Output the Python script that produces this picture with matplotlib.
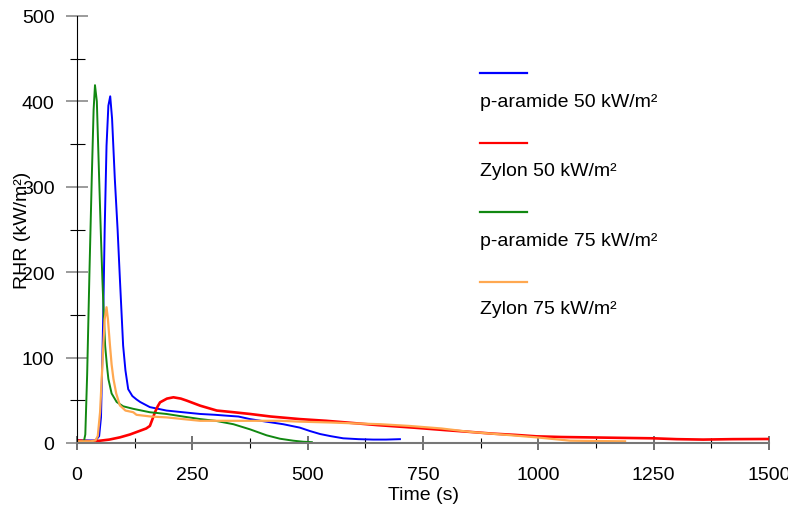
import matplotlib
matplotlib.use("Agg")
import matplotlib.pyplot as plt
from matplotlib.lines import Line2D
from matplotlib.ticker import MultipleLocator

plt.rcParams['font.family'] = ['Liberation Sans', 'DejaVu Sans']

# p-aramide 50 kW/m2 (blue)
t_blue = [0, 20, 40, 48, 52, 55, 57, 60, 64, 68, 72, 76, 82, 88, 93, 100, 105, 111,
          120, 129, 137, 158, 194, 230, 267, 300, 324, 350, 375, 410, 447, 483, 505,
          527, 550, 577, 610, 642, 670, 700]
q_blue = [3, 3, 3, 8, 30, 100, 153, 250, 348, 395, 406, 380, 309, 250, 192, 114, 85, 63,
          55, 51, 48, 42, 38, 36, 34, 33, 32, 31, 28, 25, 22, 18, 14,
          10.5, 8, 5.5, 4.5, 4, 4, 4.5]

# Zylon 50 kW/m2 (red)
t_red = [0, 30, 50, 70, 93, 115, 137, 150, 158, 165, 169, 175, 180, 195, 209, 225, 238,
         267, 303, 340, 375, 420, 483, 540, 585, 650, 729, 800, 852, 900, 950, 996,
         1050, 1105, 1180, 1249, 1300, 1357, 1420, 1500]
q_red = [3, 2, 2.7, 4, 6.6, 10, 14.4, 17, 20, 30, 36, 43, 47.6, 52, 53.5, 52, 49.6,
         43.7, 38, 36, 34, 31, 28, 26, 24, 21, 18, 15, 13, 11, 9.5, 7.8,
         7, 6.6, 6, 5.5, 4.5, 4, 4.5, 4.7]

# p-aramide 75 kW/m2 (green)
t_green = [8, 15, 18, 22, 27, 32, 36, 39, 43, 48, 52, 55, 58, 61, 65, 68, 75, 86, 100,
           122, 158, 194, 230, 267, 300, 339, 375, 411, 440, 469, 490, 509]
q_green = [1, 2, 10, 80, 200, 310, 390, 419, 400, 310, 240, 192, 150, 114, 90, 75, 58, 48, 43,
           40, 36, 34, 31, 28, 26, 22, 16, 9, 5, 2.7, 1.5, 1]

# Zylon 75 kW/m2 (orange)
t_orange = [0, 30, 40, 45, 50, 54, 57, 60, 64, 67, 71.5, 75, 79, 85, 93, 105, 122, 129,
            160, 194, 230, 267, 320, 375, 440, 483, 550, 600, 657, 720, 790, 852, 920,
            996, 1069, 1130, 1188]
q_orange = [2, 2, 3, 8, 36, 80, 114, 145, 159, 145, 114, 92, 75, 58, 44, 38, 36, 33,
            31, 30, 28, 26, 26, 26, 26, 25, 24, 23, 22, 20, 17, 13, 10,
            6.6, 2.7, 2.3, 2]

labels = ['p-aramide 50 kW/m²', 'Zylon 50 kW/m²', 'p-aramide 75 kW/m²', 'Zylon 75 kW/m²']
colors = ['#0000ff', '#ff0000', '#118811', '#ffa850']

fig = plt.figure(figsize=(7.88, 5.06), dpi=100)
ax = fig.add_axes([77 / 788, 1 - 444 / 506, 692 / 788, 427 / 506])

ax.plot(t_blue, q_blue, color=colors[0], lw=1.4)
ax.plot(t_red, q_red, color=colors[1], lw=1.9)
ax.plot(t_green, q_green, color=colors[2], lw=1.4)
ax.plot(t_orange, q_orange, color=colors[3], lw=1.6)

ax.set_xlim(0, 1500)
ax.set_ylim(0, 500)
ax.xaxis.set_major_locator(MultipleLocator(250))
ax.xaxis.set_minor_locator(MultipleLocator(125))
ax.yaxis.set_major_locator(MultipleLocator(100))
ax.yaxis.set_minor_locator(MultipleLocator(50))

for side in ['top', 'right']:
    ax.spines[side].set_visible(False)
ax.spines['bottom'].set_color('#777777')
ax.spines['bottom'].set_linewidth(1.5)
ax.spines['left'].set_color('black')
ax.spines['left'].set_linewidth(0.8)

ax.tick_params(axis='y', which='major', direction='inout', length=16.5, width=1.1,
               color='#808080', pad=8, labelsize=14)
ax.tick_params(axis='y', which='minor', direction='inout', length=10.8, width=0.8, color='black')
ax.tick_params(axis='x', which='major', direction='inout', length=9.4, width=1.3,
               color='#666666', pad=12, labelsize=14)
ax.tick_params(axis='x', which='minor', direction='inout', length=6.5, width=0.8, color='black')

ax.set_xlabel('Time (s)', fontsize=14, labelpad=2)
fig.text(22.5 / 788, 0.5 * ((1 - 444 / 506) + (1 - 17 / 506)), 'RHR (kW/m²)', rotation=90,
         ha='center', va='center', fontsize=14)

# legend: line above its text
line_y = [74, 144, 213, 283]
text_y = [103, 172, 242, 310]
for lab, col, ly, ty in zip(labels, colors, line_y, text_y):
    fig.add_artist(Line2D([480 / 788, 527 / 788], [1 - ly / 506] * 2,
                          transform=fig.transFigure, color=col, lw=1.6))
    fig.text(480 / 788, 1 - ty / 506, lab, ha='left', va='center', fontsize=14)

fig.savefig('out.png', dpi=100)
